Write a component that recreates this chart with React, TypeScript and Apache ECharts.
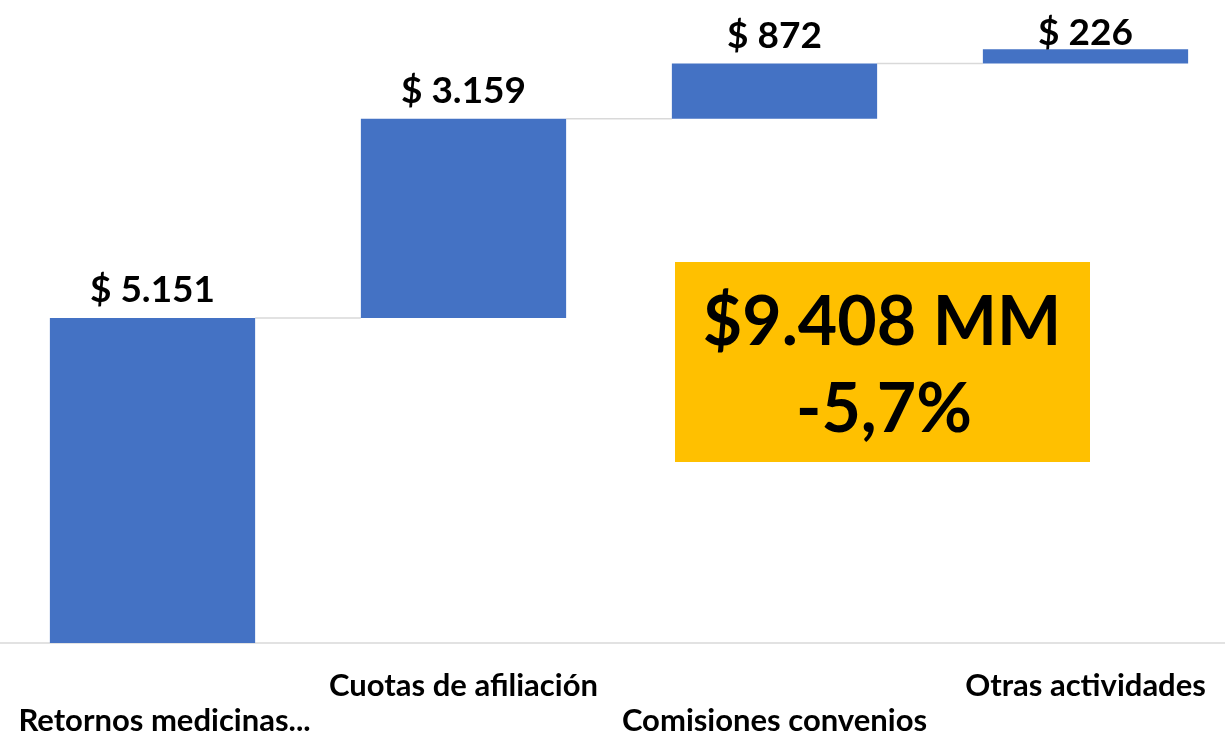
import React, { useEffect, useRef } from "react";
import * as echarts from "echarts";

const categories = ["Retornos medicinas...", "Cuotas de afiliación", "Comisiones convenios", "Otras actividades"];
const values = [5151, 3159, 872, 226];
const totalText = "$9.408 MM";
const changeText = "-5,7%";

const FONT = "Lato";

function fmt(v: number): string {
  const s = String(Math.round(v));
  return "$ " + s.replace(/\B(?=(\d{3})+(?!\d))/g, ".");
}

export default function App() {
  const ref = useRef<HTMLDivElement>(null);
  useEffect(() => {
    if (!ref.current) return;
    const chart = echarts.init(ref.current, null, { renderer: "svg" });
    const bases: number[] = [];
    const tops: number[] = [];
    let acc = 0;
    values.forEach((v) => {
      bases.push(acc);
      acc += v;
      tops.push(acc);
    });
    const connectors = tops.slice(0, -1).map((t, i) => [i, t]);
    const barData = values.map((v, i) =>
      i === values.length - 1 ? { value: v, label: { offset: [0, 12] } } : v
    );
    const labelBase = { fontFamily: FONT, fontWeight: "bold", fontSize: 31, color: "#000", lineHeight: 35 };
    const option: any = {
      animation: false,
      grid: { left: 0, right: 0, top: 12, bottom: 95, containLabel: false },
      xAxis: {
        type: "category",
        data: categories,
        axisLine: { lineStyle: { color: "#D9D9D9", width: 1.5 } },
        axisTick: { show: false },
        axisLabel: {
          interval: 0,
          margin: 23,
          formatter: (val: string, idx: number) =>
            idx % 2 === 0
              ? idx === 0
                ? `{t| }\n{first|${val}}`
                : `{t| }\n{t|${val}}`
              : `{t|${val}}`,
          rich: {
            t: { ...labelBase },
            first: { ...labelBase, padding: [0, 0, 0, 24] },
          },
        },
      },
      yAxis: { type: "value", min: 0, max: 10000, show: false },
      series: [
        {
          type: "bar",
          stack: "w",
          data: bases,
          barWidth: "66%",
          itemStyle: { color: "transparent" },
          silent: true,
        },
        {
          type: "bar",
          stack: "w",
          data: barData,
          barWidth: "66%",
          itemStyle: { color: "#4472C4" },
          label: {
            show: true,
            position: "top",
            distance: 12,
            formatter: (p: any) => fmt(p.value),
            fontFamily: FONT,
            fontWeight: "bold",
            fontSize: 37,
            color: "#000",
          },
        },
        {
          type: "custom",
          data: connectors,
          z: 1,
          renderItem: (params: any, api: any) => {
            const i = api.value(0);
            const y = api.value(1);
            const p1 = api.coord([i, y]);
            const p2 = api.coord([i + 1, y]);
            const half = api.size([1, 0])[0] * 0.33;
            return {
              type: "line",
              shape: { x1: p1[0] + half, y1: p1[1], x2: p2[0] - half, y2: p2[1] },
              style: { stroke: "#D9D9D9", lineWidth: 1.5 },
            };
          },
        },
      ],
      graphic: [
        { type: "rect", left: 683, top: 262, shape: { width: 415, height: 200 }, style: { fill: "#FFC000" } },
        {
          type: "text",
          x: 890,
          y: 318,
          style: { text: totalText, fontFamily: FONT, fontWeight: "bold", fontSize: 68, fill: "#000", align: "center", verticalAlign: "middle" },
        },
        {
          type: "text",
          x: 892,
          y: 405,
          style: { text: changeText, fontFamily: FONT, fontWeight: "bold", fontSize: 68, fill: "#000", align: "center", verticalAlign: "middle" },
        },
      ],
    };
    chart.setOption(option);
    return () => chart.dispose();
  }, []);
  return <div ref={ref} style={{ position: "fixed", left: -8, top: 0, width: 1249, height: 738 }} />;
}
